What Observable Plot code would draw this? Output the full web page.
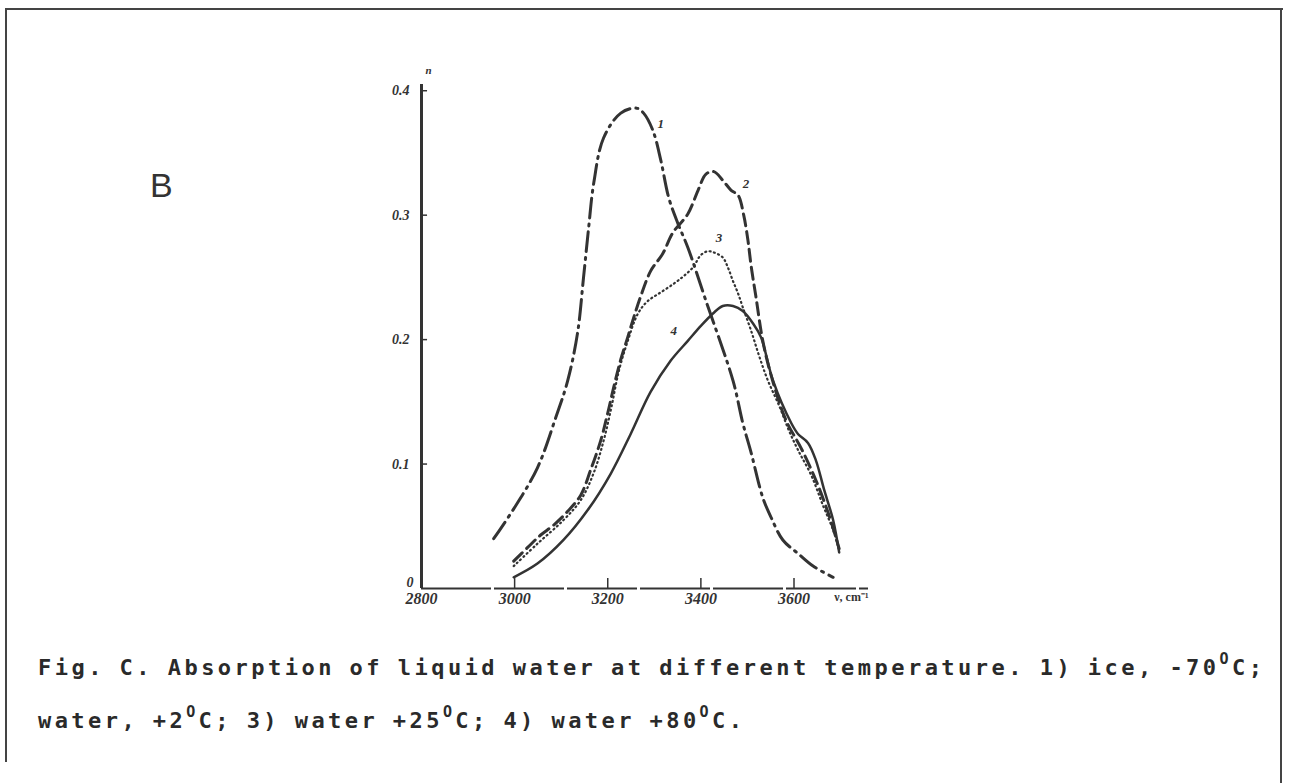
<!DOCTYPE html>
<html>
<head>
<meta charset="utf-8">
<script src="https://cdn.jsdelivr.net/npm/d3@7"></script>
<script src="https://cdn.jsdelivr.net/npm/@observablehq/plot@0.6"></script>
<style>
  html, body { margin: 0; padding: 0; background: #fff; }
  #page { position: relative; width: 1289px; height: 783px; overflow: hidden; background: #fff; }
  #frameTop { position: absolute; left: 5px; top: 8px; width: 1278px; height: 0; border-top: 2px solid #444; }
  #frameLeft { position: absolute; left: 5px; top: 8px; width: 0; height: 754px; border-left: 2px solid #444; }
  #frameRight { position: absolute; left: 1280px; top: 8px; width: 0; height: 775px; border-left: 2px solid #444; }
  #panel { position: absolute; left: 150px; top: 168px; font-family: "Liberation Sans", Arial, sans-serif; font-size: 34px; color: #333; line-height: 1; }
  #chart { position: absolute; left: 0; top: 0; }
  #caption { position: absolute; left: 0; top: 640px; }
  #caption text { word-spacing: -2px; }
</style>
</head>
<body>
<div id="page">
  <div id="frameTop"></div>
  <div id="frameLeft"></div>
  <div id="frameRight"></div>
  <div id="chart"></div>
  <div id="panel">B</div>
  <svg id="caption" width="1289" height="120" xmlns="http://www.w3.org/2000/svg"
       font-family="'DejaVu Sans Mono', 'Liberation Mono', monospace" font-weight="bold" font-size="22" fill="#2a2a2a">
    <text x="38" y="35" textLength="1224" lengthAdjust="spacing">Fig. C.  Absorption of liquid water at different temperature.  1) ice, -70<tspan dy="-11" font-size="15">O</tspan><tspan dy="11">C;</tspan></text>
    <text x="38" y="88" textLength="704" lengthAdjust="spacing">water, +2<tspan dy="-11" font-size="15">O</tspan><tspan dy="11">C; 3) water +25</tspan><tspan dy="-11" font-size="15">O</tspan><tspan dy="11">C; 4) water +80</tspan><tspan dy="-11" font-size="15">O</tspan><tspan dy="11">C.</tspan></text>
  </svg>
</div>
<script>
// ---- Data (wavenumber cm^-1, absorbance) ----
const xTicks = [2800, 3000, 3200, 3400, 3600];
const yTicks = [0.1, 0.2, 0.3, 0.4];
const yOrigin = [0];

// 1) ice, -70 °C
const ice = [
  [2955, 0.040], [2998, 0.064], [3049, 0.097], [3088, 0.137], [3114, 0.167],
  [3135, 0.205], [3148, 0.250], [3159, 0.290], [3170, 0.326], [3191, 0.362],
  [3228, 0.382], [3262, 0.386], [3277, 0.382], [3297, 0.368], [3314, 0.344],
  [3331, 0.314], [3351, 0.293], [3372, 0.274], [3411, 0.231], [3469, 0.167],
  [3490, 0.133], [3508, 0.109], [3533, 0.073], [3551, 0.057], [3576, 0.039],
  [3609, 0.028], [3641, 0.018], [3684, 0.009]
];
// 2) water, +2 °C
const water2 = [
  [2998, 0.022], [3028, 0.033], [3056, 0.043], [3084, 0.051], [3114, 0.062],
  [3142, 0.075], [3163, 0.095], [3185, 0.119], [3200, 0.141], [3213, 0.162],
  [3228, 0.184], [3243, 0.202], [3256, 0.218], [3271, 0.235], [3292, 0.255],
  [3318, 0.269], [3340, 0.286], [3372, 0.301], [3394, 0.320], [3411, 0.333],
  [3428, 0.335], [3447, 0.328], [3465, 0.320], [3480, 0.316], [3492, 0.300],
  [3501, 0.280], [3508, 0.259], [3518, 0.235], [3533, 0.199], [3551, 0.171],
  [3583, 0.135], [3615, 0.113], [3647, 0.087], [3675, 0.059], [3697, 0.032]
];
// 3) water, +25 °C
const water25 = [
  [2998, 0.018], [3049, 0.036], [3105, 0.055], [3142, 0.071], [3170, 0.093],
  [3192, 0.120], [3208, 0.146], [3224, 0.175], [3243, 0.199], [3265, 0.221],
  [3286, 0.231], [3314, 0.238], [3342, 0.245], [3363, 0.251], [3383, 0.258],
  [3400, 0.268], [3415, 0.271], [3428, 0.270], [3447, 0.266], [3458, 0.258],
  [3469, 0.247], [3480, 0.237], [3490, 0.226], [3508, 0.207], [3525, 0.187],
  [3544, 0.167], [3568, 0.147], [3589, 0.127], [3609, 0.111], [3637, 0.091],
  [3662, 0.067], [3684, 0.047], [3697, 0.031]
];
// 4) water, +80 °C
const water80 = [
  [2998, 0.009], [3049, 0.020], [3105, 0.039], [3157, 0.063], [3206, 0.092],
  [3249, 0.124], [3292, 0.158], [3335, 0.183], [3372, 0.199], [3400, 0.211],
  [3426, 0.221], [3447, 0.227], [3469, 0.227], [3490, 0.223], [3512, 0.213],
  [3529, 0.202], [3555, 0.167], [3594, 0.133], [3609, 0.124], [3630, 0.117],
  [3647, 0.103], [3665, 0.079], [3684, 0.055], [3697, 0.029]
];
// curve number labels (anchor in data units)
const curveLabels = [
  {label: "1", wn: 3314, abs: 0.373},
  {label: "2", wn: 3497, abs: 0.325},
  {label: "3", wn: 3439, abs: 0.282},
  {label: "4", wn: 3342, abs: 0.207}
];
const xUnit = "ν, cm⁻¹";
const yUnit = "n";

const ink = "#333";
const serif = "'Liberation Serif', serif";
const lineOpts = {x: d => d[0], y: d => d[1], curve: "catmull-rom", stroke: ink, strokeLinecap: "round"};
const labelFont = {fontWeight: "bold", fontStyle: "italic", fontFamily: serif};

const chart = Plot.plot({
  width: 1289,
  height: 620,
  marginLeft: 421,
  marginRight: 421,
  marginTop: 84,
  marginBottom: 32,
  style: {background: "transparent", color: ink},
  x: {domain: [2800, 3760]},
  y: {domain: [0, 0.405]},
  marks: [
    Plot.ruleY([0], {stroke: ink, strokeWidth: 2.2, strokeDasharray: "70,3"}),
    Plot.ruleX([2800], {stroke: ink, strokeWidth: 3}),
    Plot.ruleX(xTicks, {y1: 0, y2: 0.008, stroke: ink, strokeWidth: 1.5}),
    Plot.ruleY(yTicks, {x1: 2800, x2: 2813, stroke: ink, strokeWidth: 1.5}),
    Plot.axisX({ticks: xTicks, tickSize: 0, tickPadding: 4, tickFormat: d => String(d),
      fontSize: 16, ...labelFont, label: null}),
    Plot.axisY({ticks: yTicks, tickSize: 0, tickPadding: 12, tickFormat: d => d.toFixed(1),
      fontSize: 14, ...labelFont, label: null}),
    Plot.axisY({ticks: yOrigin, tickSize: 0, tickPadding: 8, dy: -6, tickFormat: d => String(d),
      fontSize: 14, ...labelFont, label: null}),
    Plot.text([xUnit], {frameAnchor: "bottom-right", dy: 12, textAnchor: "end", fontSize: 12,
      fontWeight: "bold", fontFamily: serif, fill: ink}),
    Plot.text([yUnit], {frameAnchor: "top-left", dx: 4, dy: -18, fontSize: 11, ...labelFont, fill: ink}),
    Plot.line(ice, {...lineOpts, strokeWidth: 3, strokeDasharray: "20,6,2,6"}),
    Plot.line(water2, {...lineOpts, strokeWidth: 3, strokeDasharray: "12,6"}),
    Plot.line(water25, {...lineOpts, strokeWidth: 2.2, strokeDasharray: "1,3.5"}),
    Plot.line(water80, {...lineOpts, strokeWidth: 2.5}),
    Plot.text(curveLabels, {x: "wn", y: "abs", text: "label", fontSize: 13, ...labelFont, fill: ink})
  ]
});
document.getElementById("chart").appendChild(chart);
</script>
</body>
</html>
